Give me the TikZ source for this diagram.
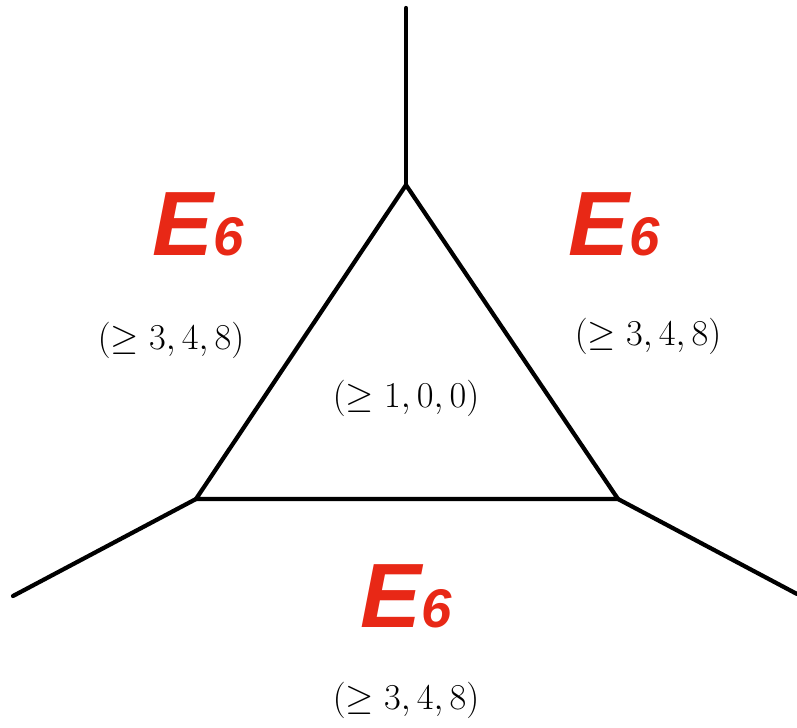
\documentclass[tikz,border=0pt]{standalone}
\usepackage{amsmath,amssymb}
\usepackage{fontspec}
\newfontfamily\labelfont{Liberation Sans}
\usetikzlibrary{positioning}
\definecolor{erred}{RGB}{232,40,22}
\newcommand{\Esix}{{\labelfont\bfseries\itshape\fontsize{52}{52}\selectfont E\fontsize{31}{31}\selectfont 6}}
\newcommand{\lbl}[1]{{\fontsize{19.5}{22}\selectfont$#1$}}

\begin{document}
\begin{tikzpicture}[x=0.02cm,y=-0.02cm]
			\useasboundingbox (0,0) rectangle (797,727);
			\tikzset{edge/.style={line width=2.4pt,line cap=round,line join=miter},
				alg/.style={text=erred,inner sep=0pt},
				tup/.style={inner sep=0pt}}
			
			\coordinate (top) at (406,185);
			\coordinate (left) at (196,499);
			\coordinate (right) at (618,499);
			\coordinate (topend) at (406,8);
			\coordinate (leftend) at (13,596);
			\coordinate (rightend) at (797,594);
			
			\draw[edge] (top)--(left)--(right)--cycle;
			\draw[edge] (top)--(topend);
			\draw[edge] (left)--(leftend);
			\draw[edge] (right)--(rightend);
			
			\node[alg] (e6l) at (198,224) {\Esix};
			\node[alg] (e6r) at (614,224) {\Esix};
			\node[alg] (e6b) at (406,596) {\Esix};
			
			\node[tup] (tl) at (171,340) {\lbl{(\geq 3,4,8)}};
			\node[tup] (tr) at (648,336) {\lbl{(\geq 3,4,8)}};
			\node[tup] (tc) at (406,398) {\lbl{(\geq 1,0,0)}};
			\node[tup] (tb) at (406,700) {\lbl{(\geq 3,4,8)}};
			
		\end{tikzpicture}
\end{document}
